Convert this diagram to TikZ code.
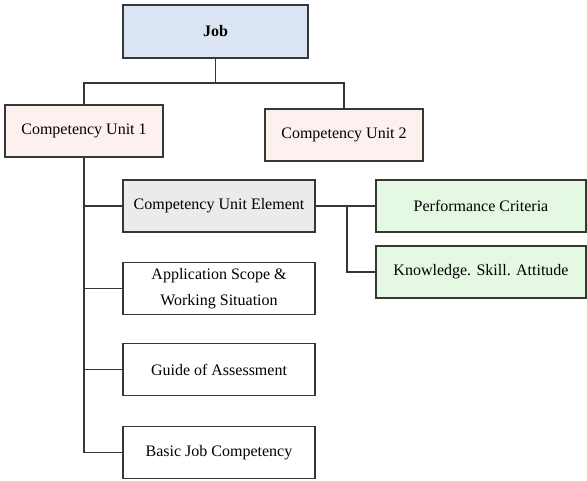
\documentclass[tikz,border=0pt]{standalone}
\usepackage{fontspec}
\setmainfont{Liberation Serif}
\definecolor{job-color}{RGB}{219,228,243}
\definecolor{unit-color}{RGB}{253,241,239}
\definecolor{element-color}{RGB}{235,235,235}
\definecolor{criteria-color}{RGB}{228,248,228}
\definecolor{line-color}{RGB}{55,55,55}
\tikzset{
  box/.style={draw=line-color, line width=1.4pt, minimum height=52pt, align=center, inner sep=0pt,
    font=\fontsize{16}{26}\selectfont},
  midbox/.style={box, minimum width=192pt},
  rightbox/.style={box, minimum width=210pt, fill=criteria-color},
  link/.style={draw=line-color, line width=1.3pt}
}
\begin{document}
\begin{tikzpicture}[x=1pt,y=-1pt]
    \useasboundingbox (0,0) rectangle (587,480);

    % top level
    \node[box, minimum width=185pt, minimum height=53pt, fill=job-color, font=\fontsize{16}{26}\selectfont\bfseries] (job) at (215.5,31.5) {Job};
    \node[box, minimum width=158pt, fill=unit-color] (unit1) at (84,131) {Competency Unit 1};
    \node[box, minimum width=158pt, fill=unit-color] (unit2) at (344,135) {Competency Unit 2};

    % elements of unit 1
    \node[midbox, fill=element-color] (element) at (219,206) {Competency Unit Element};
    \node[midbox] (scope) at (219,288.5) {Application Scope \&\\Working Situation};
    \node[midbox] (guide) at (219,369.5) {Guide of Assessment};
    \node[midbox] (basic) at (219,452.5) {Basic Job Competency};

    \node[rightbox] (criteria) at (481,206) {Performance Criteria};
    \node[rightbox] (ksa) at (481,272) {Knowledge. Skill. Attitude};

    % connectors
    \coordinate (split) at (215.5,83);
    \coordinate (fork) at (347,206);
    \draw[link] (job.south) -- (split);
    \draw[link] (unit1.north) |- (split) -| (unit2.north);
    \foreach \n in {element,scope,guide,basic}
        \draw[link] (unit1.south) |- (\n.west);
    \draw[link] (element.east) -- (criteria.west);
    \draw[link] (fork) |- (ksa.west);
\end{tikzpicture}
\end{document}
